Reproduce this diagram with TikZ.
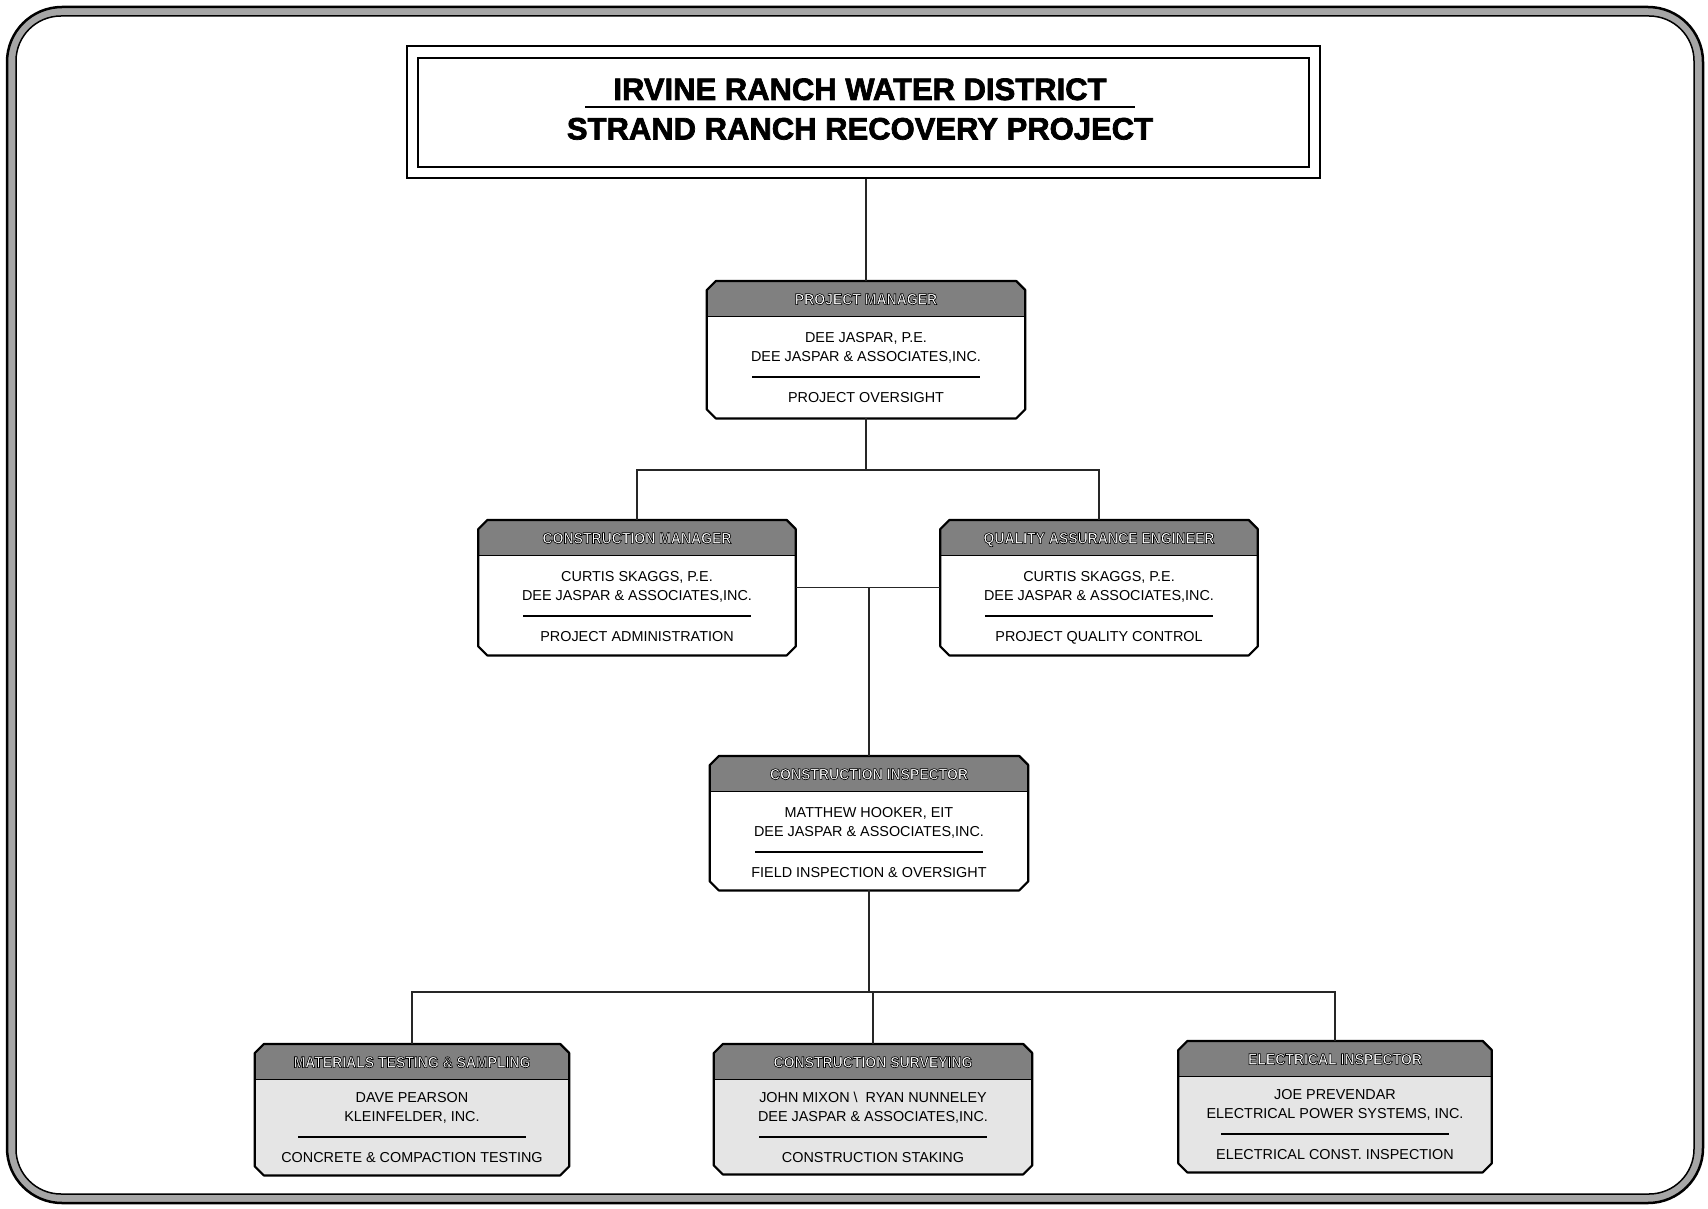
\documentclass[tikz,border=0pt]{standalone}
\usepackage{fontspec}
\usepackage{graphicx}
\setmainfont{Liberation Sans}
\newcommand\outl[1]{\scalebox{1}[1.12]{\bfseries\color{white}\special{pdf:code 2 Tr 0.6 w 0 G}#1\special{pdf:code 0 Tr}}}
\newcommand\heavy[1]{{\special{pdf:code 2 Tr 0.7 w}#1\special{pdf:code 0 Tr}}}
\def\bodyfill{white}
\def\dy{0}
\tikzset{
  hdrfill/.style={fill=black!50},
  boxborder/.style={line width=2.2pt, line join=round},
  hdr/.style={font=\fontsize{14}{16}\selectfont, inner sep=0pt, text height=11.2pt, text depth=0pt},
  bodytxt/.style={font=\fontsize{14.4}{16}\selectfont, inner sep=0pt, text height=10.3pt, text depth=0pt},
  sepline/.style={line width=1.3pt},
  conn/.style={line width=1.2pt, black!85},
  titletxt/.style={font=\bfseries\fontsize{31}{34}\selectfont, inner sep=0pt, text height=22pt, text depth=0pt},
}
\newcommand\orgbox[9]{%
  \node[draw=none, minimum width=#4pt, minimum height=#5pt, inner sep=0pt, anchor=north] (#1) at (#2,#3) {};
  \fill[\bodyfill] ([yshift=-9pt]#1.north west) -- ([xshift=9pt]#1.north west) -- ([xshift=-9pt]#1.north east) -- ([yshift=-9pt]#1.north east) -- ([yshift=9pt]#1.south east) -- ([xshift=-9pt]#1.south east) -- ([xshift=9pt]#1.south west) -- ([yshift=9pt]#1.south west) -- cycle;
  \fill[hdrfill] ([yshift=-9pt]#1.north west) -- ([xshift=9pt]#1.north west) -- ([xshift=-9pt]#1.north east) -- ([yshift=-9pt]#1.north east) -- ([yshift=-35pt]#1.north east) -- ([yshift=-35pt]#1.north west) -- cycle;
  \draw[line width=0.8pt] ([yshift=-35pt]#1.north west) -- ([yshift=-35pt]#1.north east);
  \draw[boxborder] ([yshift=-9pt]#1.north west) -- ([xshift=9pt]#1.north west) -- ([xshift=-9pt]#1.north east) -- ([yshift=-9pt]#1.north east) -- ([yshift=9pt]#1.south east) -- ([xshift=-9pt]#1.south east) -- ([xshift=9pt]#1.south west) -- ([yshift=9pt]#1.south west) -- cycle;
  \node[hdr] (#1-h) at ([yshift=-18pt]#1.north) {\outl{#6}};
  \node[bodytxt] (#1-a) at ([yshift=-56pt+\dy pt]#1.north) {#7};
  \node[bodytxt] (#1-b) at ([yshift=-75pt+\dy pt]#1.north) {#8};
  \draw[sepline] ([xshift=-114pt,yshift=-96pt+\dy pt]#1.north) -- ([xshift=114pt,yshift=-96pt+\dy pt]#1.north);
  \node[bodytxt] (#1-c) at ([yshift=-116pt+\dy pt]#1.north) {#9};
}
\begin{document}
\begin{tikzpicture}[x=1pt,y=-1pt]
\useasboundingbox (0,0) rectangle (1708,1209);
\fill[white] (0,0) rectangle (1708,1209);
% frame
\draw[line width=9pt, black!35, rounded corners=50pt] (11.5,11.5) rectangle (1698.5,1198.5);
\draw[line width=2.5pt, rounded corners=55pt] (7,7) rectangle (1703,1203);
\draw[line width=1.5pt, rounded corners=45pt] (16,16) rectangle (1694,1194);
% title
\node[draw, line width=1.2pt, minimum width=913pt, minimum height=132pt, inner sep=0pt] (title) at (863.5,112) {};
\node[draw, line width=1.6pt, minimum width=891pt, minimum height=109pt, inner sep=0pt] (titlein) at (863.5,112.5) {};
\node[titletxt] (title1) at (860,89) {\heavy{IRVINE RANCH WATER DISTRICT}};
\node[titletxt] (title2) at (860,128.5) {\heavy{STRAND RANCH RECOVERY PROJECT}};
\draw[line width=1.3pt] (585,107) -- (1135,107);
% boxes
\orgbox{pm}{866}{281}{318}{137}{PROJECT MANAGER}{DEE JASPAR, P.E.}{DEE JASPAR \& ASSOCIATES,INC.}{PROJECT OVERSIGHT}
\orgbox{cm}{637}{520}{317}{135}{CONSTRUCTION MANAGER}{CURTIS SKAGGS, P.E.}{DEE JASPAR \& ASSOCIATES,INC.}{PROJECT ADMINISTRATION}
\orgbox{qa}{1099}{520}{317}{135}{QUALITY ASSURANCE ENGINEER}{CURTIS SKAGGS, P.E.}{DEE JASPAR \& ASSOCIATES,INC.}{PROJECT QUALITY CONTROL}
\orgbox{ci}{869}{756}{318}{134}{CONSTRUCTION INSPECTOR}{MATTHEW HOOKER, EIT}{DEE JASPAR \& ASSOCIATES,INC.}{FIELD INSPECTION \& OVERSIGHT}
\def\bodyfill{black!10}
\def\dy{3}
\orgbox{mt}{412}{1044}{314}{131}{MATERIALS TESTING \& SAMPLING}{DAVE PEARSON}{KLEINFELDER, INC.}{CONCRETE \& COMPACTION TESTING}
\orgbox{cs}{873}{1044}{318}{130}{CONSTRUCTION SURVEYING}{JOHN MIXON \textbackslash\ \ RYAN NUNNELEY}{DEE JASPAR \& ASSOCIATES,INC.}{CONSTRUCTION STAKING}
\orgbox{ei}{1335}{1041}{313}{131}{ELECTRICAL INSPECTOR}{JOE PREVENDAR}{ELECTRICAL POWER SYSTEMS, INC.}{ELECTRICAL CONST. INSPECTION}
% connectors
\coordinate (j1) at (866,470);
\coordinate (j2) at (871,992);
\draw[conn] (title.south -| pm.north) -- (pm.north);
\draw[conn] (pm.south) -- (j1);
\draw[conn] (cm.north) |- (j1) -| (qa.north);
\draw[conn] (cm.east) -- (qa.west);
\draw[conn] (ci.north) -- (ci.north |- cm.east);
\draw[conn] (ci.south) -- (ci.south |- j2);
\draw[conn] (mt.north) |- (j2) -| (ei.north);
\draw[conn] (cs.north) -- (cs.north |- j2);
\end{tikzpicture}
\end{document}
